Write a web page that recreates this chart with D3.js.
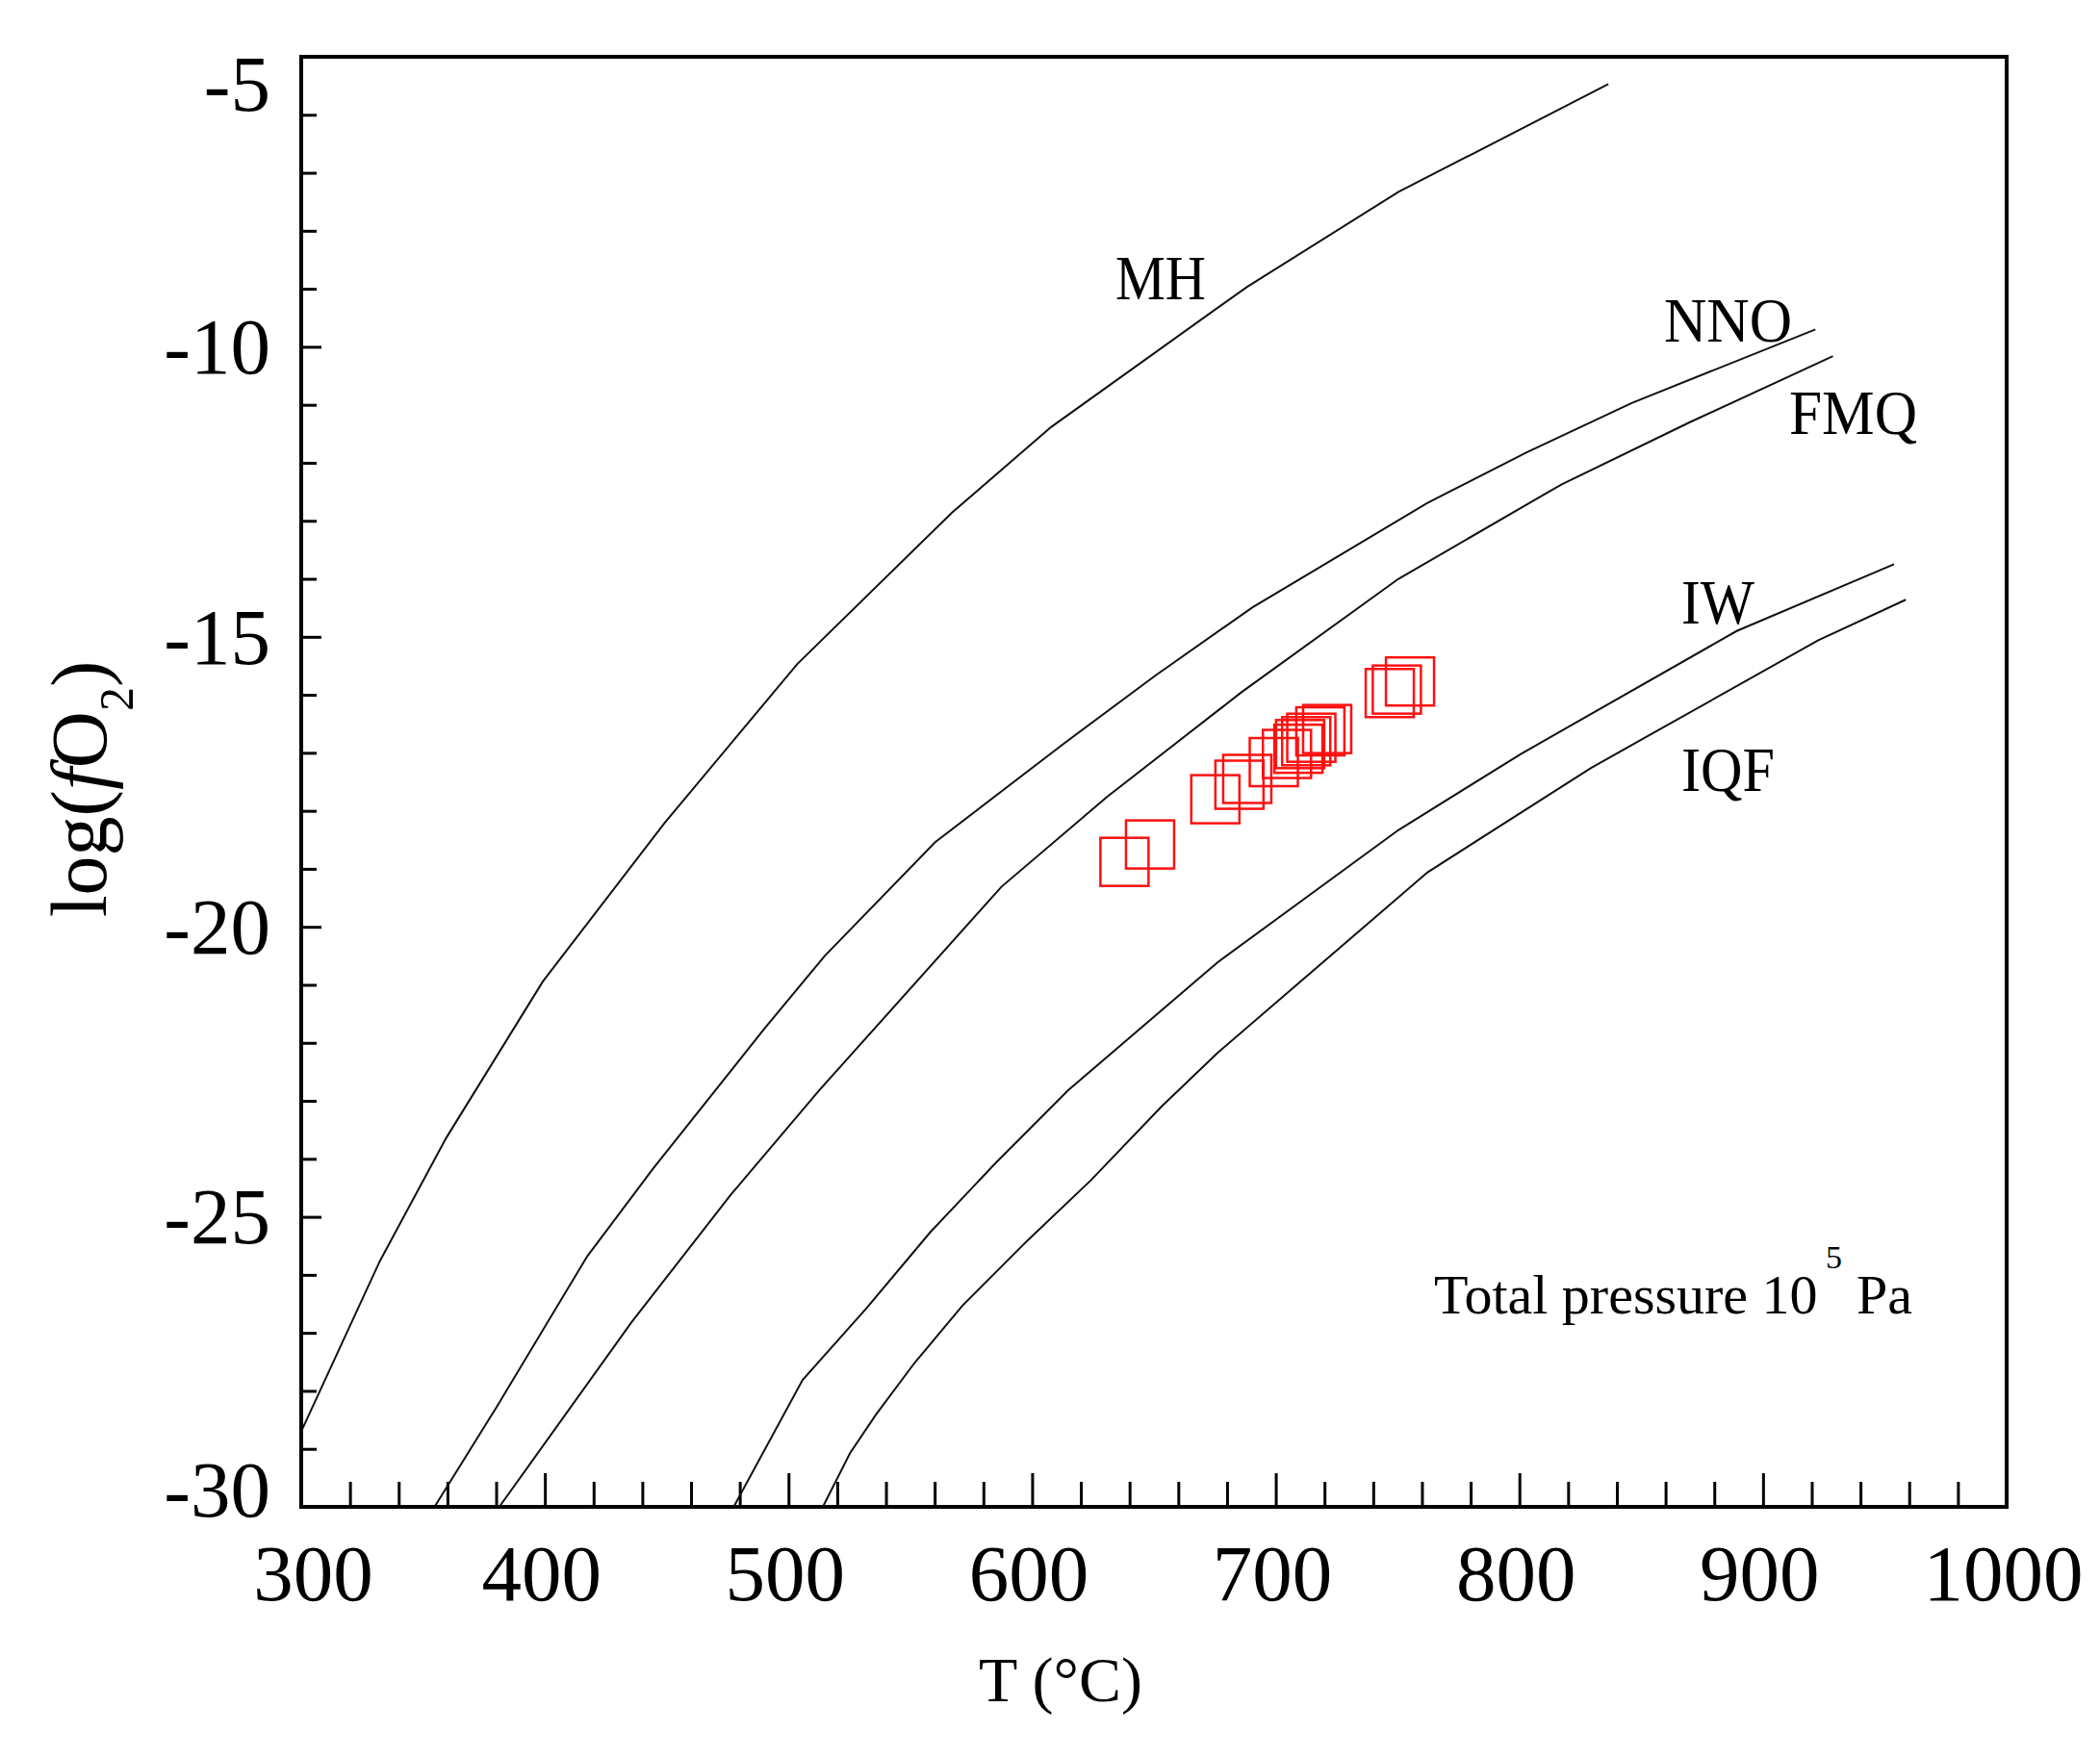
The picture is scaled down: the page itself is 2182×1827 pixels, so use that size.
<!DOCTYPE html>
<html>
<head>
<meta charset="utf-8">
<script src="https://cdn.jsdelivr.net/npm/d3@7"></script>
<style>
  body { margin: 0; background: #fff; }
  text { font-family: "Liberation Serif", "Times New Roman", serif; fill: #000; }
</style>
</head>
<body>
<div id="chart"></div>
<script>
// buffer curves, [T (°C), log fO2]
const MH  = [[300, -28.70], [332.3, -25.76], [359.5, -23.64], [399.2, -20.94], [449.1, -18.21],
             [503.6, -15.47], [567.1, -12.86], [607.9, -11.38], [688.1, -8.97], [750.4, -7.33], [836.5, -5.47]];
const NNO = [[354.7, -30], [379.9, -28.30], [417.4, -25.68], [444.6, -24.16], [490.0, -21.76],
             [514.9, -20.50], [560.2, -18.54], [612.4, -16.86], [650.5, -15.67], [690.5, -14.49],
             [762.3, -12.69], [803.0, -11.82], [846.1, -10.97], [921.5, -9.70]];
const FMQ = [[381.3, -30], [435.5, -26.82], [476.3, -24.62], [512.6, -22.82], [587.4, -19.31],
             [630.7, -17.76], [685.8, -15.96], [750.4, -14.00], [817.4, -12.37], [870.0, -11.30], [928.7, -10.16]];
const IW  = [[477.5, -30], [505.8, -27.81], [531.9, -26.58], [558.3, -25.26], [584.6, -24.09],
             [614.7, -22.82], [676.2, -20.61], [750.4, -18.33], [800.6, -17.02], [889.2, -14.90], [953.8, -13.75]];
const IQF = [[514.1, -30], [525.3, -29.07], [535.9, -28.41], [551.7, -27.52], [571.4, -26.53],
             [597.8, -25.42], [624.1, -24.37], [653.1, -23.10], [676.2, -22.17], [762.3, -19.06],
             [829.4, -17.26], [922.7, -15.06], [958.6, -14.36]];

// samples (red squares)
const sampleT   = [637.9, 648.4, 675.2, 685.1, 688.3, 699.2, 704.6, 709.3, 710.0, 712.5,
                   714.6, 718.3, 721.1, 746.8, 749.7, 755.1];
const sampleLog = [-18.88, -18.58, -17.80, -17.55, -17.45, -17.16, -17.02, -16.93, -16.85, -16.80,
                   -16.74, -16.63, -16.59, -15.97, -15.91, -15.77];

const xTicks = [300, 400, 500, 600, 700, 800, 900, 1000];
const yTicks = [-30, -25, -20, -15, -10, -5];

const buffers = [
  { name: "MH",  pts: MH,  lx: 1159, ly: 311, lw: 94 },
  { name: "NNO", pts: NNO, lx: 1729, ly: 355, lw: 133 },
  { name: "FMQ", pts: FMQ, lx: 1859, ly: 451, lw: 133 },
  { name: "IW",  pts: IW,  lx: 1747, ly: 648, lw: 76 },
  { name: "IQF", pts: IQF, lx: 1747, ly: 822, lw: 97 }
];

const W = 2182, H = 1827;
const L = 313, R = 2085, T = 59, B = 1566;

const svg = d3.select("#chart").append("svg")
    .attr("width", W)
    .attr("height", H);

svg.append("rect").attr("width", W).attr("height", H).attr("fill", "#fff");

const x = d3.scaleLinear().domain([300, 1000]).range([L, R]);
const y = d3.scaleLinear().domain([-30, -5]).range([B, T]);

// minor ticks every 20 °C / 1 log unit
const xMinor = d3.range(320, 1000, 20).filter(d => d % 100 !== 0);
const yMinor = d3.range(-29, -5, 1).filter(d => d % 5 !== 0);

function styleAxis(g) {
    g.select(".domain").remove();
    g.selectAll(".tick line").attr("stroke", "#000").attr("stroke-width", 3);
    g.selectAll(".tick text")
        .style("font-family", '"Liberation Serif", "Times New Roman", serif')
        .style("font-size", "83px")
        .attr("fill", "#000");
}

svg.append("g")
    .attr("transform", `translate(0,${B})`)
    .call(d3.axisBottom(x).tickValues(xMinor).tickSize(-26).tickFormat(""))
    .call(styleAxis);

const xAxis = svg.append("g")
    .attr("transform", `translate(0,${B})`)
    .call(d3.axisBottom(x).tickValues(xTicks).tickSize(-35).tickPadding(38).tickFormat(d => String(d)))
    .call(styleAxis);
xAxis.selectAll(".tick text").attr("dx", d => d === 300 ? 12 : -4);

svg.append("g")
    .attr("transform", `translate(${L},0)`)
    .call(d3.axisLeft(y).tickValues(yMinor).tickSize(-16).tickFormat(""))
    .call(styleAxis);

const yAxis = svg.append("g")
    .attr("transform", `translate(${L},0)`)
    .call(d3.axisLeft(y).tickValues(yTicks).tickSize(-21).tickPadding(32).tickFormat(d => String(d)))
    .call(styleAxis);
// end labels are pulled inside the frame
yAxis.selectAll(".tick text")
    .attr("dy", d => d === -5 ? "0.67em" : d === -30 ? "0.12em" : "0.33em");

// frame
svg.append("rect")
    .attr("x", L).attr("y", T)
    .attr("width", R - L).attr("height", B - T)
    .attr("fill", "none")
    .attr("stroke", "#000")
    .attr("stroke-width", 4);

// buffer curves
const line = d3.line()
    .x(d => x(d[0]))
    .y(d => y(d[1]));

svg.append("g").selectAll("path")
    .data(buffers)
    .join("path")
    .attr("d", d => line(d.pts))
    .attr("fill", "none")
    .attr("stroke", "#111")
    .attr("stroke-width", 2);

svg.append("g").selectAll("text")
    .data(buffers)
    .join("text")
    .attr("x", d => d.lx)
    .attr("y", d => d.ly)
    .attr("textLength", d => d.lw)
    .attr("lengthAdjust", "spacingAndGlyphs")
    .style("font-size", "66px")
    .text(d => d.name);

// samples
const sq = 50;
svg.append("g").selectAll("rect")
    .data(sampleT.map((t, i) => [t, sampleLog[i]]))
    .join("rect")
    .attr("x", d => x(d[0]) - sq / 2)
    .attr("y", d => y(d[1]) - sq / 2)
    .attr("width", sq)
    .attr("height", sq)
    .attr("fill", "none")
    .attr("stroke", "#ff1010")
    .attr("stroke-width", 2.5);

// annotation
svg.append("text")
    .attr("x", 1490).attr("y", 1365)
    .style("font-size", "58px")
    .text("Total pressure 10");
svg.append("text")
    .attr("x", 1897).attr("y", 1318)
    .style("font-size", "34px")
    .text("5");
svg.append("text")
    .attr("x", 1929).attr("y", 1365)
    .style("font-size", "58px")
    .text("Pa");

// axis titles
svg.append("text")
    .attr("x", 1102).attr("y", 1768)
    .attr("text-anchor", "middle")
    .style("font-size", "66px")
    .text("T (°C)");

const yTitle = svg.append("text")
    .attr("transform", "translate(110,820) rotate(-90)")
    .attr("text-anchor", "middle")
    .style("font-size", "82px");
yTitle.append("tspan").text("log(");
yTitle.append("tspan").style("font-style", "italic").text("f");
yTitle.append("tspan").text("O");
yTitle.append("tspan").attr("dy", 28).style("font-size", "50px").text("2");
yTitle.append("tspan").attr("dy", -28).text(")");
</script>
</body>
</html>
